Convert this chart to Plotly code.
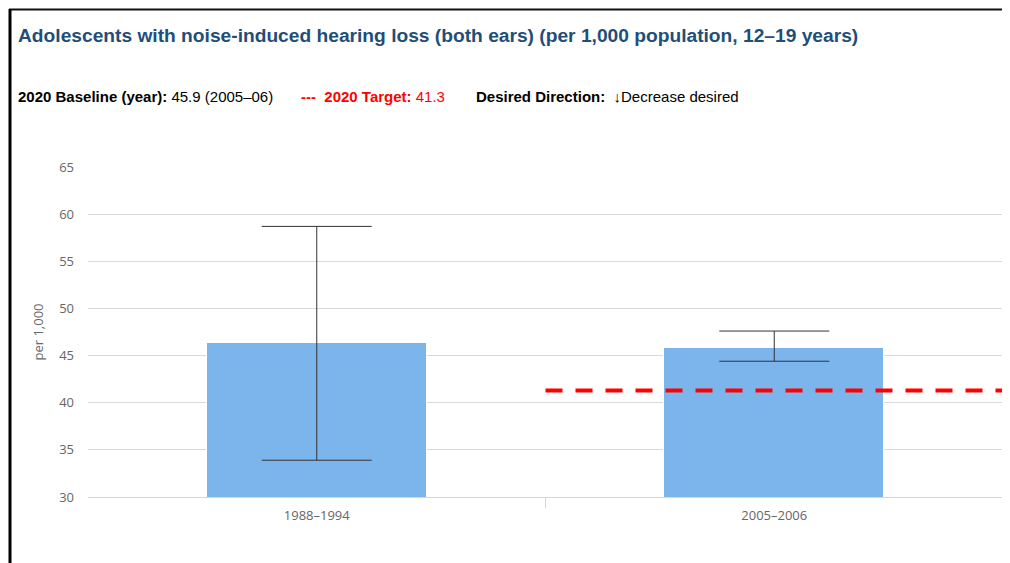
import plotly.graph_objects as go

# data
periods = ["1988–1994", "2005–2006"]
rates = [46.3, 45.8]
err_upper = [58.7, 47.6]
err_lower = [33.9, 44.4]
target = 41.3
y_ticks = [30, 35, 40, 45, 50, 55, 60, 65]

W, H = 1010, 563
OFF = 8  # page body margin shifts the figure by this much
L, R, T, B = 88 - OFF, 1003 - OFF, 167 - OFF, 497 - OFF  # plot area in figure px


def px(x):
    # screen x -> paper x
    return (x - OFF - L) / (R - L)


def py(y):
    # screen y -> paper y
    return (B - (y - OFF)) / (B - T)


pos = list(range(len(periods)))
fig = go.Figure()

fig.add_trace(go.Bar(
    x=pos, y=rates,
    width=0.48,
    marker=dict(color="#7cb5ec", line=dict(color="#ffffff", width=1)),
    error_y=dict(
        type="data", symmetric=False,
        array=[u - v for u, v in zip(err_upper, rates)],
        arrayminus=[v - l for v, l in zip(rates, err_lower)],
        color="#333333", thickness=1, width=55,
    ),
    showlegend=False,
))

# 2020 target line, drawn over the last category only
fig.add_trace(go.Scatter(
    x=[pos[-1] - 0.5, pos[-1] + 0.5], y=[target, target],
    mode="lines",
    line=dict(color="#ff0000", width=4, dash="17px,13px"),
    showlegend=False,
))

tick_font = dict(family="Open Sans", size=13, color="#666666")

fig.update_layout(
    width=W, height=H,
    margin=dict(l=L, r=W - R, t=T, b=H - B),
    paper_bgcolor="white", plot_bgcolor="white",
    bargap=0,
    title=dict(
        text="<b>Adolescents with noise-induced hearing loss (both ears) (per 1,000 population, 12–19 years)</b>",
        xref="container", yref="container",
        x=(18 - OFF) / W, y=1 - (35 - OFF) / H, xanchor="left", yanchor="middle",
        font=dict(family="Liberation Sans, Arial", size=19.2, color="#1f4e79"),
    ),
    xaxis=dict(
        range=[-0.5, len(periods) - 0.5],
        tickvals=pos, ticktext=periods,
        ticks="", showgrid=False, zeroline=False,
        showline=True, linecolor="#ccd6eb", linewidth=1,
        tickfont=tick_font, ticklabelstandoff=6,
        minor=dict(tickvals=[0.5], ticks="outside", ticklen=10,
                   tickcolor="#ccd6eb", showgrid=False),
        fixedrange=True,
    ),
    yaxis=dict(
        range=[30, 65], tickvals=y_ticks,
        showgrid=True, gridcolor="#d9d9d9", gridwidth=1,
        zeroline=False, showline=False, ticks="",
        tickfont=tick_font, ticklabelstandoff=13,
        title=dict(text="per 1,000", standoff=12, font=tick_font),
        fixedrange=True,
    ),
)

# category boundary tick at the right end of the x axis
fig.add_shape(type="line", xref="x", yref="paper",
              x0=pos[-1] + 0.5, x1=pos[-1] + 0.5, y0=0, y1=py(507),
              line=dict(color="#ccd6eb", width=1))

sub_font = dict(family="Liberation Sans, Arial", size=15, color="#000000")
sub_y = py(97)
fig.add_annotation(xref="paper", yref="paper", x=px(16), y=sub_y,
                   xanchor="left", yanchor="middle", showarrow=False,
                   text="<b>2020 Baseline (year):</b> 45.9 (2005–06)", font=sub_font)
fig.add_annotation(xref="paper", yref="paper", x=px(299), y=sub_y,
                   xanchor="left", yanchor="middle", showarrow=False,
                   text="<span style='color:#ff0000'><b>---  2020 Target:</b> 41.3</span>",
                   font=sub_font)
fig.add_annotation(xref="paper", yref="paper", x=px(474), y=sub_y,
                   xanchor="left", yanchor="middle", showarrow=False,
                   text="<b>Desired Direction:</b>  ↓Decrease desired", font=sub_font)

# screenshot frame (top and left black edges)
fig.add_shape(type="line", xref="paper", yref="paper",
              x0=px(9), x1=px(W + 20), y0=py(9.5), y1=py(9.5),
              line=dict(color="#111111", width=2))
fig.add_shape(type="line", xref="paper", yref="paper",
              x0=px(10), x1=px(10), y0=py(9), y1=py(H + 20),
              line=dict(color="#000000", width=3))

fig.write_html("out.html", config={"displayModeBar": False})
